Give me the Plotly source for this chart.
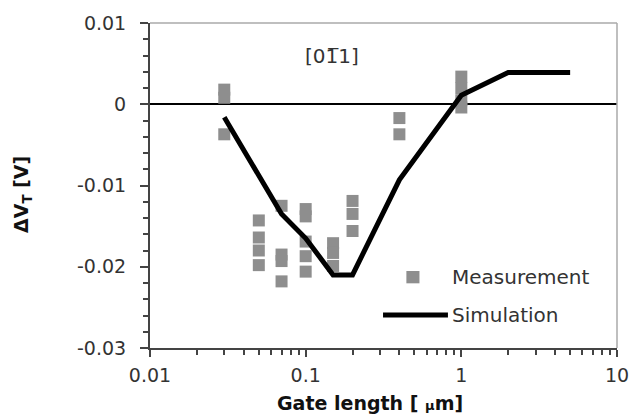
import plotly.graph_objects as go

# Measurement data (gate length in um, delta VT in V)
meas_x = [0.03, 0.03, 0.03,
          0.05, 0.05, 0.05, 0.05,
          0.07, 0.07, 0.07, 0.07,
          0.1, 0.1, 0.1, 0.1, 0.1,
          0.15, 0.15, 0.15,
          0.2, 0.2, 0.2,
          0.4, 0.4,
          1.0, 1.0, 1.0, 1.0]
meas_y = [0.0018, 0.0008, -0.0037,
          -0.0143, -0.0164, -0.0180, -0.0198,
          -0.0125, -0.0185, -0.0193, -0.0218,
          -0.0129, -0.0138, -0.0169, -0.0187, -0.0206,
          -0.0171, -0.0183, -0.0199,
          -0.0119, -0.0135, -0.0156,
          -0.0017, -0.0037,
          0.0034, 0.0020, 0.0005, -0.0004]

# Simulation data
sim_x = [0.03, 0.07, 0.1, 0.15, 0.2, 0.4, 1.0, 2.0, 5.0]
sim_y = [-0.0016, -0.0135, -0.0165, -0.0210, -0.0210, -0.0093, 0.0011, 0.0039, 0.0039]

# Axis ticks
x_tickvals = [0.01, 0.1, 1, 10]
x_ticktext = ["0.01", "0.1", "1", "10"]
x_minorvals = [m * d for d in (0.01, 0.1, 1) for m in range(2, 10)]
y_tickvals = [-0.03, -0.02, -0.01, 0, 0.01]
y_ticktext = ["-0.03", "-0.02", "-0.01", "0", "0.01"]

FONT = "DejaVu Sans"
GRAY = "#8e8e8e"
TXT = "#333333"

fig = go.Figure()
fig.add_trace(go.Scatter(x=meas_x, y=meas_y, mode="markers", name="Measurement",
                         marker=dict(symbol="square", size=12, color=GRAY),
                         showlegend=False))
fig.add_trace(go.Scatter(x=sim_x, y=sim_y, mode="lines", name="Simulation",
                         line=dict(color="black", width=5), showlegend=False))

fig.update_layout(
    width=636, height=419,
    margin=dict(l=150, r=19, t=23, b=71),
    paper_bgcolor="white", plot_bgcolor="white",
    font=dict(family=FONT, size=19, color=TXT),
    showlegend=False,
)
fig.update_xaxes(type="log", range=[-2, 1], automargin=False,
                 tickvals=x_tickvals, ticktext=x_ticktext,
                 ticks="outside", ticklen=7, tickwidth=2, tickcolor="#444",
                 showline=True, linecolor="#444", linewidth=2,
                 showgrid=False, zeroline=False, ticklabelstandoff=2,
                 tickfont=dict(size=19, color=TXT),
                 minor=dict(tickvals=x_minorvals, ticks="outside", ticklen=5,
                            tickwidth=2, tickcolor="#444", showgrid=False))
fig.update_yaxes(range=[-0.03, 0.01], automargin=False,
                 tickvals=y_tickvals, ticktext=y_ticktext,
                 ticks="outside", ticklen=8, tickwidth=2, tickcolor="#444",
                 showline=True, linecolor="#444", linewidth=2,
                 showgrid=False, zeroline=True, zerolinecolor="black", zerolinewidth=1.5,
                 ticklabelstandoff=10,
                 tickfont=dict(size=19, color=TXT),
                 minor=dict(dtick=0.002, tick0=0, ticks="outside", ticklen=5,
                            tickwidth=2, tickcolor="#444", showgrid=False))

# top and right frame lines
fig.add_shape(type="line", xref="paper", yref="paper", x0=0, x1=1, y0=1, y1=1,
              line=dict(color="#aaaaaa", width=1.5))
fig.add_shape(type="line", xref="paper", yref="paper", x0=1, x1=1, y0=0, y1=1,
              line=dict(color="#aaaaaa", width=1.5))

# legend keys
fig.add_shape(type="rect", xref="paper", yref="paper",
              x0=0.549, x1=0.577, y0=0.199, y1=0.237,
              fillcolor=GRAY, line=dict(width=0))
fig.add_shape(type="line", xref="paper", yref="paper",
              x0=0.499, x1=0.638, y0=0.1015, y1=0.1015,
              line=dict(color="black", width=5))
fig.add_annotation(xref="paper", yref="paper", x=0.642, y=0.218,
                   text="Measurement", showarrow=False, xanchor="left", yanchor="middle",
                   font=dict(size=20, color=TXT))
fig.add_annotation(xref="paper", yref="paper", x=0.642, y=0.1015,
                   text="Simulation", showarrow=False, xanchor="left", yanchor="middle",
                   font=dict(size=20, color=TXT))

# crystal direction label
fig.add_annotation(xref="paper", yref="paper", x=0.39, y=0.897,
                   text="[01\u03051]", showarrow=False, xanchor="center", yanchor="middle",
                   font=dict(size=20, color=TXT))

# axis titles
fig.add_annotation(xref="paper", yref="paper", x=(370 - 150) / 467, y=(348 - 403) / 325,
                   text="<b>Gate length [ <span style='font-size:13px'>\u03bc</span>m]</b>",
                   showarrow=False, xanchor="center", yanchor="middle",
                   font=dict(size=19, color="#111"))
fig.add_annotation(xref="paper", yref="paper", x=(23 - 150) / 467, y=(348 - 195) / 325,
                   text="<b>\u0394V<sub>T</sub> [V]</b>", textangle=-90,
                   showarrow=False, xanchor="center", yanchor="middle",
                   font=dict(size=19, color="#111"))

fig.write_html("out.html", config={"displayModeBar": False},
               post_script="document.body.style.margin='0';document.body.style.padding='0';")
